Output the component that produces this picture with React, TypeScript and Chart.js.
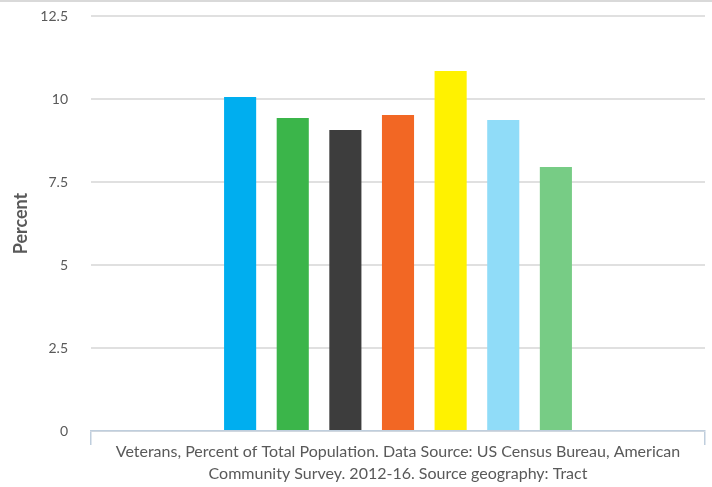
import React, { useEffect, useRef } from "react";
import { Chart, registerables } from "chart.js";

Chart.register(...registerables);

const categories: string[][] = [[
  "Veterans, Percent of Total Population. Data Source: US Census Bureau, American",
  "Community Survey. 2012-16. Source geography: Tract",
]];
const seriesNames = ["Series 1", "Series 2", "Series 3", "Series 4", "Series 5", "Series 6", "Series 7"];
const seriesValues = [10.06, 9.43, 9.07, 9.52, 10.84, 9.37, 7.95];
const seriesColors = ["#00AEEF", "#3BB54A", "#3D3D3D", "#F26724", "#FFF200", "#90DCF8", "#77CC85"];
const yTicks = [0, 2.5, 5, 7.5, 10, 12.5];
const yTitle = "Percent";

const FONT = "Lato, 'Noto Sans', sans-serif";
const TEXT = "#595959";

export default function App() {
  const ref = useRef<HTMLCanvasElement | null>(null);
  useEffect(() => {
    if (!ref.current) return;
    const chart = new Chart(ref.current, {
      type: "bar",
      data: {
        labels: categories,
        datasets: seriesNames.map((n, i) => ({
          label: n,
          data: [seriesValues[i]],
          backgroundColor: seriesColors[i],
          borderWidth: 0,
          categoryPercentage: 0.6,
          barPercentage: 0.61,
        })),
      },
      options: {
        responsive: false,
        animation: false,
        layout: { padding: { top: 16, left: 0, right: 7, bottom: 0 } },
        plugins: { legend: { display: false }, tooltip: { enabled: false } },
        scales: {
          x: {
            afterFit: (s: any) => { s.height = 56; s.paddingTop = 0; s.paddingBottom = 0; },
            grid: {
              display: true,
              drawOnChartArea: false,
              drawTicks: true,
              tickLength: 14,
              color: "#BFCEDD",
              lineWidth: 1.5,
              offset: true,
            },
            border: { display: true, color: "#BFCEDD", width: 1.5 },
            ticks: {
              color: TEXT,
              font: { family: FONT, size: 16, lineHeight: 1.38 },
              padding: -4,
              maxRotation: 0,
              autoSkip: false,
            },
          },
          y: {
            min: 0,
            max: 12.5,
            afterFit: (s: any) => { s.width = 91; s.paddingTop = 0; s.paddingBottom = 0; },
            afterBuildTicks: (s: any) => { s.ticks = yTicks.map((v) => ({ value: v })); },
            grid: { color: "#E0E0E0", lineWidth: 2, drawTicks: false },
            border: { display: false },
            ticks: {
              color: TEXT,
              font: { family: FONT, size: 14 },
              padding: 23,
              callback: (v: any) => String(v),
            },
            title: {
              display: true,
              text: yTitle,
              color: TEXT,
              font: { family: FONT, size: 18, weight: "bold" },
              padding: { top: 10, bottom: 0 },
            },
          },
        },
      },
    });
    return () => chart.destroy();
  }, []);
  return (
    <div style={{ position: "absolute", left: 0, top: 0, width: 712, height: 487, background: "#fff" }}>
      <canvas ref={ref} width={712} height={487} style={{ display: "block" }} />
      <div style={{ position: "absolute", left: 0, top: 0, width: 712, height: 2, background: "#D9D9D9" }} />
    </div>
  );
}
